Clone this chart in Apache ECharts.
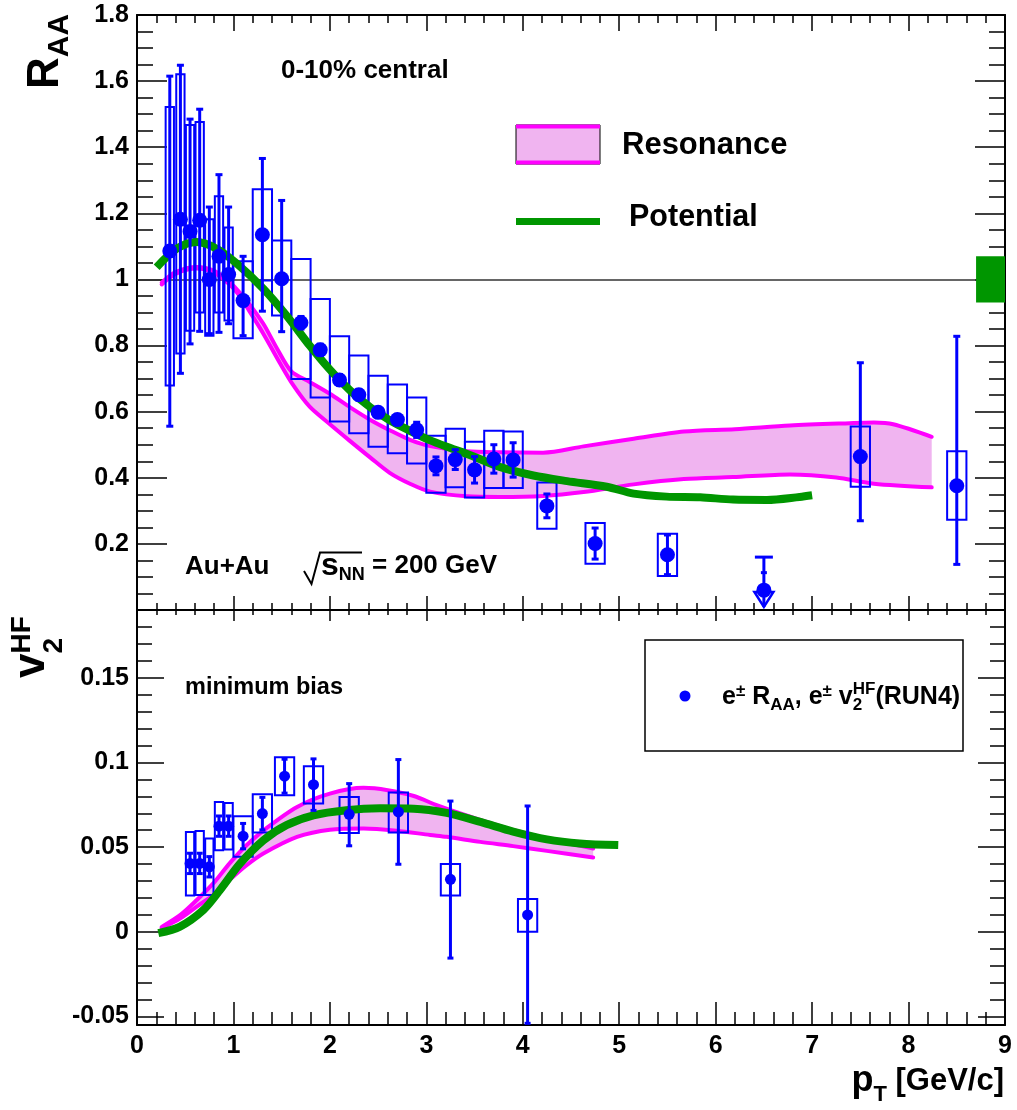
<!DOCTYPE html>
<html><head><meta charset="utf-8">
<script src="https://cdn.jsdelivr.net/npm/echarts@6/dist/echarts.min.js"></script>
<style>html,body{margin:0;padding:0;background:#fff}#c{width:1017px;height:1110px}</style>
</head><body><div id="c"></div>
<script>
// ================= DATA =================
// Top panel: e± R_AA, 0-10% central
const raaX      = [0.34,0.45,0.55,0.65,0.75,0.85,0.95,1.10,1.30,1.50,1.70,1.90,2.10,2.30,2.50,2.70,2.90,3.10,3.30,3.50,3.70,3.90,4.25,4.75,5.50,7.50,8.50];
const raaY      = [1.086,1.182,1.145,1.179,1.000,1.070,1.015,0.936,1.135,1.002,0.869,0.787,0.696,0.651,0.598,0.576,0.545,0.436,0.455,0.424,0.457,0.454,0.315,0.201,0.167,0.464,0.376];
const raaStatLo = [0.556,0.716,0.805,0.843,0.836,0.840,0.866,0.830,0.904,0.842,0.850,0.770,0.680,0.636,0.585,0.562,0.522,0.409,0.425,0.384,0.414,0.402,0.279,0.154,0.107,0.270,0.138];
const raaStatHi = [1.615,1.648,1.485,1.515,1.219,1.317,1.219,1.070,1.366,1.239,0.888,0.804,0.712,0.666,0.611,0.590,0.568,0.463,0.485,0.464,0.500,0.506,0.351,0.248,0.227,0.748,0.828];
const raaSysLo  = [0.679,0.776,0.845,0.900,0.830,0.900,0.876,0.822,0.997,0.891,0.699,0.643,0.570,0.535,0.494,0.474,0.443,0.355,0.371,0.340,0.369,0.369,0.246,0.140,0.103,0.373,0.273];
const raaSysHi  = [1.522,1.621,1.467,1.476,1.182,1.252,1.157,1.055,1.273,1.118,1.062,0.941,0.828,0.770,0.709,0.682,0.643,0.527,0.548,0.509,0.542,0.540,0.386,0.263,0.231,0.555,0.480];
const raaBoxHW  = [0.043,0.043,0.043,0.043,0.043,0.043,0.043,0.10,0.10,0.10,0.10,0.10,0.10,0.10,0.10,0.10,0.10,0.10,0.10,0.10,0.10,0.10,0.10,0.10,0.10,0.10,0.10];
// upper-limit point: [pT, value, stat high, limit]
const raaLimit  = [[6.5, 0.060, 0.113, 0.160]];
// normalisation uncertainty box at R_AA = 1: [x0, x1, lo, hi]
const raaNorm   = [[8.70, 9.00, 0.930, 1.070]];

// Resonance band (R_AA) upper / lower edges, Potential curve
const resRaaUp = [[0.256,0.990],[0.40,1.022],[0.62,1.038],[0.80,1.026],[0.96,0.992],[1.06,0.962],[1.14,0.935],[1.31,0.866],[1.45,0.792],[1.60,0.722],[1.79,0.690],[2.00,0.654],[2.21,0.613],[2.42,0.575],[2.62,0.544],[2.83,0.515],[3.04,0.496],[3.42,0.480],[3.76,0.477],[4.21,0.476],[4.63,0.495],[5.15,0.518],[5.67,0.540],[6.20,0.547],[6.77,0.558],[7.39,0.565],[7.64,0.567],[7.84,0.562],[8.24,0.524]];
const resRaaLo = [[0.256,0.985],[0.40,1.017],[0.62,1.033],[0.80,1.020],[0.96,0.985],[1.06,0.952],[1.14,0.916],[1.31,0.836],[1.48,0.748],[1.62,0.680],[1.79,0.615],[2.00,0.562],[2.21,0.511],[2.42,0.461],[2.62,0.415],[2.83,0.382],[3.04,0.358],[3.42,0.344],[3.76,0.342],[4.21,0.345],[4.63,0.357],[5.15,0.380],[5.67,0.396],[6.18,0.402],[6.77,0.410],[7.25,0.401],[7.64,0.382],[8.24,0.371]];
const potRaa   = [[0.204,1.037],[0.412,1.093],[0.619,1.113],[0.826,1.093],[1.034,1.048],[1.31,0.972],[1.55,0.891],[1.79,0.800],[2.00,0.727],[2.21,0.664],[2.42,0.613],[2.62,0.574],[2.83,0.542],[3.04,0.513],[3.25,0.490],[3.45,0.469],[3.76,0.433],[4.11,0.407],[4.46,0.390],[4.87,0.373],[5.15,0.352],[5.49,0.343],[5.84,0.341],[6.18,0.334],[6.53,0.333],[6.87,0.342],[7.00,0.347]];

// Bottom panel: e± v2^HF, minimum bias
const v2X      = [0.55,0.65,0.75,0.85,0.95,1.10,1.30,1.53,1.83,2.20,2.71,3.25,4.05];
const v2Y      = [0.0404,0.0404,0.0384,0.0624,0.0624,0.0565,0.0698,0.0919,0.0869,0.0694,0.0708,0.0310,0.0100];
const v2StatLo = [0.0344,0.0344,0.0324,0.0564,0.0564,0.0490,0.0602,0.0819,0.0717,0.0508,0.0399,-0.0155,-0.0540];
const v2StatHi = [0.0464,0.0464,0.0444,0.0684,0.0684,0.0640,0.0794,0.1019,0.1021,0.0875,0.1017,0.0772,0.0743];
const v2SysLo  = [0.0214,0.0218,0.0218,0.0482,0.0486,0.0443,0.0586,0.0806,0.0757,0.0584,0.0586,0.0214,0.0000];
const v2SysHi  = [0.0590,0.0596,0.0551,0.0767,0.0761,0.0682,0.0812,0.1031,0.0978,0.0796,0.0822,0.0400,0.0194];
const v2BoxHW  = [0.043,0.043,0.043,0.043,0.043,0.10,0.10,0.10,0.10,0.10,0.10,0.10,0.10];

const resV2Up = [[0.256,0.0029],[0.45,0.0100],[0.62,0.0188],[0.80,0.0292],[0.96,0.0404],[1.13,0.0508],[1.31,0.0598],[1.66,0.0737],[2.00,0.0816],[2.35,0.0850],[2.60,0.0836],[2.87,0.0802],[3.10,0.0750],[3.40,0.0690],[3.70,0.0636],[3.90,0.0601],[4.25,0.0551],[4.73,0.0492]];
const resV2Lo = [[0.256,0.0022],[0.45,0.0080],[0.62,0.0149],[0.80,0.0222],[0.96,0.0306],[1.13,0.0390],[1.31,0.0462],[1.66,0.0560],[2.00,0.0603],[2.35,0.0610],[2.69,0.0597],[3.04,0.0572],[3.21,0.0561],[3.56,0.0531],[3.90,0.0506],[4.25,0.0478],[4.73,0.0439]];
const potV2   = [[0.221,-0.0008],[0.446,0.0031],[0.688,0.0129],[0.861,0.0247],[1.068,0.0402],[1.31,0.0540],[1.55,0.0630],[1.83,0.0688],[2.17,0.0718],[2.52,0.0729],[2.87,0.0727],[3.21,0.0702],[3.56,0.0649],[3.90,0.0592],[4.25,0.0546],[4.59,0.0522],[4.99,0.0512]];

// axis ticks
const xTicks        = [0,1,2,3,4,5,6,7,8,9];
const raaTicks      = [0,0.2,0.4,0.6,0.8,1.0,1.2,1.4,1.6,1.8];
const v2MajorTicks  = [-0.05,0,0.05,0.1,0.15];
const v2MinorTicks  = [-0.04,-0.03,-0.02,-0.01,0.01,0.02,0.03,0.04,0.06,0.07,0.08,0.09,0.11,0.12,0.13,0.14,0.16,0.17,0.18];

// ================= STYLE =================
const FF = '"Liberation Sans", Arial, Helvetica, sans-serif';
const BLUE = '#0000ff', MAG = '#ff00ff', PINK = '#f0b4f0', GREEN = '#009600';

const mctx = document.createElement('canvas').getContext('2d');
function mw(t, font){ mctx.font = font; return mctx.measureText(t).width; }
function textRun(parts, x, y, opt){
  opt = opt || {};
  let adv = 0; const ch = [];
  parts.forEach(p => {
    const font = 'bold ' + p.s + 'px ' + FF;
    ch.push({type:'text', x: adv + (p.dx||0), y: p.dy||0,
      style:{text:p.t, font:font, fill:'#000', align:'left', verticalAlign:'middle', textAlign:'left', textVerticalAlign:'middle'}});
    if (!p.hold) adv += (p.dx||0) + mw(p.t, font);
  });
  const gx = opt.align === 'right' ? x - adv : x;
  return {type:'group', x: gx, y: y, rotation: opt.rot || 0, children: ch, z: 50, silent:true};
}

const lineSt = {color:'#000', width:2};
const tickSt = {color:'#000', width:1.5};
const labelSt = {color:'#000', fontFamily:FF, fontWeight:'bold', fontSize:25};

function xAx(grid, pos, len, mlen, labels){
  return {type:'value', gridIndex:grid, position:pos, min:xTicks[0], max:xTicks[xTicks.length-1], interval:1,
    axisLine:{show:true, onZero:false, lineStyle:lineSt},
    axisTick:{show:true, inside:true, length:len, lineStyle:tickSt},
    minorTick:{show:true, splitNumber:5, length:mlen, lineStyle:tickSt},
    axisLabel:Object.assign({show:labels, margin:9}, labelSt),
    splitLine:{show:false}, minorSplitLine:{show:false}};
}
function yTop(pos, labels){
  return {type:'value', gridIndex:0, position:pos, min:raaTicks[0], max:raaTicks[raaTicks.length-1], interval:0.2,
    axisLine:{show:true, onZero:false, lineStyle:lineSt},
    axisTick:{show:true, inside:true, length:30, lineStyle:tickSt},
    minorTick:{show:true, splitNumber:4, length:16, lineStyle:tickSt},
    axisLabel:Object.assign({show:labels, margin:8, showMinLabel:false}, labelSt),
    splitLine:{show:false}, minorSplitLine:{show:false}};
}
function yBot(pos, major, labels){
  return {type:'value', gridIndex:1, position:pos, min:-0.055, max:0.19,
    axisLine:{show:major, onZero:false, lineStyle:lineSt},
    axisTick:{show:true, inside:true, length: major ? 27 : 15, lineStyle:tickSt, customValues: major ? v2MajorTicks : v2MinorTicks},
    minorTick:{show:false},
    axisLabel:Object.assign({show:labels, margin:8, customValues:v2MajorTicks}, labelSt),
    splitLine:{show:false}, minorSplitLine:{show:false}};
}

// ================= RENDERERS =================
function bandRender(up, lo){
  return function(params, api){
    if (params.dataIndex > 0) return;
    const pts = up.map(p => api.coord(p)).concat(lo.slice().reverse().map(p => api.coord(p)));
    return {type:'polygon', shape:{points:pts}, style:{fill:PINK, stroke:null}};
  };
}
function boxRender(params, api){
  const x = api.value(0), lo = api.value(1), hi = api.value(2), hw = api.value(3);
  const a = api.coord([x - hw, hi]), b = api.coord([x + hw, lo]);
  return {type:'rect', shape:{x:a[0], y:a[1], width:b[0]-a[0], height:b[1]-a[1]}, style:{fill:'none', stroke:BLUE, lineWidth:2}};
}
function errRender(cap){
  return function(params, api){
    const x = api.value(0), lo = api.value(1), hi = api.value(2);
    const a = api.coord([x, lo]), b = api.coord([x, hi]);
    const st = {stroke:BLUE, lineWidth:3};
    return {type:'group', children:[
      {type:'line', shape:{x1:a[0], y1:a[1], x2:b[0], y2:b[1]}, style:st},
      {type:'line', shape:{x1:b[0]-cap, y1:b[1], x2:b[0]+cap, y2:b[1]}, style:st},
      {type:'line', shape:{x1:a[0]-cap, y1:a[1], x2:a[0]+cap, y2:a[1]}, style:st}
    ]};
  };
}
function limitRender(params, api){
  const x = api.value(0), sh = api.value(2), lim = api.value(3);
  const pL = api.coord([x, lim]), pS = api.coord([x, sh]), p0 = api.coord([x, 0]);
  const tipY = p0[1] - 3, headY = tipY - 15, hw = 9.5;
  const st = {stroke:BLUE, lineWidth:3};
  return {type:'group', children:[
    {type:'line', shape:{x1:pL[0], y1:pL[1], x2:pL[0], y2:tipY}, style:st},
    {type:'line', shape:{x1:pL[0]-9, y1:pL[1], x2:pL[0]+9, y2:pL[1]}, style:st},
    {type:'line', shape:{x1:pS[0]-3, y1:pS[1], x2:pS[0]+3, y2:pS[1]}, style:st},
    {type:'polygon', shape:{points:[[pL[0]-hw, headY],[pL[0]+hw, headY],[pL[0], tipY]]}, style:{fill:'none', stroke:BLUE, lineWidth:2.5}}
  ]};
}
function normRender(params, api){
  const a = api.coord([api.value(0), api.value(3)]), b = api.coord([api.value(1), api.value(2)]);
  return {type:'rect', shape:{x:a[0], y:a[1], width:b[0]-a[0], height:b[1]-a[1]}, style:{fill:GREEN, stroke:null}};
}

// ================= BUILD =================
const raaBoxes = raaX.map((x,i) => [x, raaSysLo[i], raaSysHi[i], raaBoxHW[i]]);
const raaErrs  = raaX.map((x,i) => [x, raaStatLo[i], raaStatHi[i]]);
const raaPts   = raaX.map((x,i) => [x, raaY[i]]).concat(raaLimit.map(r => [r[0], r[1]]));
const v2Boxes  = v2X.map((x,i) => [x, v2SysLo[i], v2SysHi[i], v2BoxHW[i]]);
const v2Errs   = v2X.map((x,i) => [x, v2StatLo[i], v2StatHi[i]]);
const v2Pts    = v2X.map((x,i) => [x, v2Y[i]]);

const T = {xAxisIndex:0, yAxisIndex:0}, B = {xAxisIndex:2, yAxisIndex:2};
function S(ax, o){ return Object.assign({}, ax, {silent:true, animation:false}, o); }
const SM = 0.3;

const series = [
  S(T, {type:'custom', renderItem:bandRender(resRaaUp, resRaaLo), data:[resRaaUp[0]], z:1}),
  S(T, {type:'line', data:resRaaUp, smooth:SM, symbol:'none', lineStyle:{color:MAG, width:4, cap:'round', join:'round'}, z:2}),
  S(T, {type:'line', data:resRaaLo, smooth:SM, symbol:'none', lineStyle:{color:MAG, width:4, cap:'round', join:'round'}, z:2,
        markLine:{silent:true, symbol:['none','none'], label:{show:false}, lineStyle:{color:'#333', width:1.5, type:'solid'}, data:[{yAxis:1}], z:1}}),
  S(T, {type:'custom', renderItem:normRender, data:raaNorm, z:3}),
  S(T, {type:'custom', renderItem:boxRender, data:raaBoxes, z:4}),
  S(T, {type:'line', data:potRaa, smooth:SM, symbol:'none', lineStyle:{color:GREEN, width:8, join:'round'}, z:5}),
  S(T, {type:'custom', renderItem:errRender(3.5), data:raaErrs, z:6}),
  S(T, {type:'custom', renderItem:limitRender, data:raaLimit, z:6}),
  S(T, {type:'scatter', data:raaPts, symbol:'circle', symbolSize:15, itemStyle:{color:BLUE, opacity:1}, z:7}),

  S(B, {type:'custom', renderItem:bandRender(resV2Up, resV2Lo), data:[resV2Up[0]], z:1}),
  S(B, {type:'line', data:resV2Up, smooth:SM, symbol:'none', lineStyle:{color:MAG, width:4, cap:'round', join:'round'}, z:2}),
  S(B, {type:'line', data:resV2Lo, smooth:SM, symbol:'none', lineStyle:{color:MAG, width:4, cap:'round', join:'round'}, z:2}),
  S(B, {type:'custom', renderItem:boxRender, data:v2Boxes, z:4}),
  S(B, {type:'line', data:potV2, smooth:SM, symbol:'none', lineStyle:{color:GREEN, width:8, join:'round'}, z:5}),
  S(B, {type:'custom', renderItem:errRender(3), data:v2Errs, z:6}),
  S(B, {type:'scatter', data:v2Pts, symbol:'circle', symbolSize:11, itemStyle:{color:BLUE, opacity:1}, z:7})
];

const graphics = [
  // legend (top panel)
  {type:'rect', shape:{x:516, y:125, width:84, height:39}, style:{fill:PINK, stroke:'#000', lineWidth:1}, z:40},
  {type:'line', shape:{x1:516, y1:126.5, x2:600, y2:126.5}, style:{stroke:MAG, lineWidth:4}, z:41},
  {type:'line', shape:{x1:516, y1:162.5, x2:600, y2:162.5}, style:{stroke:MAG, lineWidth:4}, z:41},
  {type:'line', shape:{x1:516, y1:221.5, x2:600, y2:221.5}, style:{stroke:GREEN, lineWidth:7}, z:41},
  textRun([{t:'Resonance', s:31}], 622, 145),
  textRun([{t:'Potential', s:30.5}], 629, 218),
  textRun([{t:'0-10% central', s:26}], 281, 71),
  textRun([{t:'Au+Au', s:26}], 185, 567),
  {type:'polyline', shape:{points:[[304,571],[311.5,584],[320,552.5],[362,552.5]]}, style:{stroke:'#000', lineWidth:2, fill:'none'}, z:50},
  textRun([{t:'s', s:32},{t:'NN', s:18, dy:9},{t:' = 200 GeV', s:26}], 321, 566),
  // bottom panel
  textRun([{t:'minimum bias', s:23.5}], 185, 688),
  {type:'rect', shape:{x:645, y:640, width:318, height:111}, style:{fill:'none', stroke:'#000', lineWidth:1.5}, z:40},
  {type:'circle', shape:{cx:685, cy:696, r:5.5}, style:{fill:BLUE}, z:41},
  textRun([{t:'e', s:25},{t:'\u00b1', s:17, dy:-6},{t:' R', s:25},{t:'AA', s:17, dy:8},{t:', e', s:25},{t:'\u00b1', s:17, dy:-6},{t:' v', s:25},{t:'2', s:17, dy:8, hold:true},{t:'HF', s:17, dy:-8},{t:'(RUN4)', s:25}], 722, 697),
  // axis titles
  textRun([{t:'R', s:44},{t:'AA', s:30, dy:14}], 46, 89, {rot:Math.PI/2}),
  textRun([{t:'v', s:44},{t:'2', s:28, dy:22, hold:true},{t:'HF', s:28, dy:-10}], 32, 678, {rot:Math.PI/2}),
  textRun([{t:'p', s:36},{t:'T', s:22, dy:14},{t:' [GeV/c]', s:31}], 1004, 1081, {align:'right'})
];

const option = {
  backgroundColor:'#fff',
  animation:false,
  grid:[
    {left:137, top:15, width:868, height:595, containLabel:false},
    {left:137, top:610, width:868, height:415, containLabel:false}
  ],
  xAxis:[ xAx(0,'bottom',14,7,false), xAx(0,'top',16,8,false), xAx(1,'bottom',23,13,true), xAx(1,'top',11,5,false) ],
  yAxis:[ yTop('left',true), yTop('right',false), yBot('left',true,true), yBot('left',false,false), yBot('right',true,false), yBot('right',false,false) ],
  series: series,
  graphic: {elements: graphics}
};
const chart = echarts.init(document.getElementById('c'), null, {renderer:'canvas', width:1017, height:1110});
chart.setOption(option);
</script></body></html>
